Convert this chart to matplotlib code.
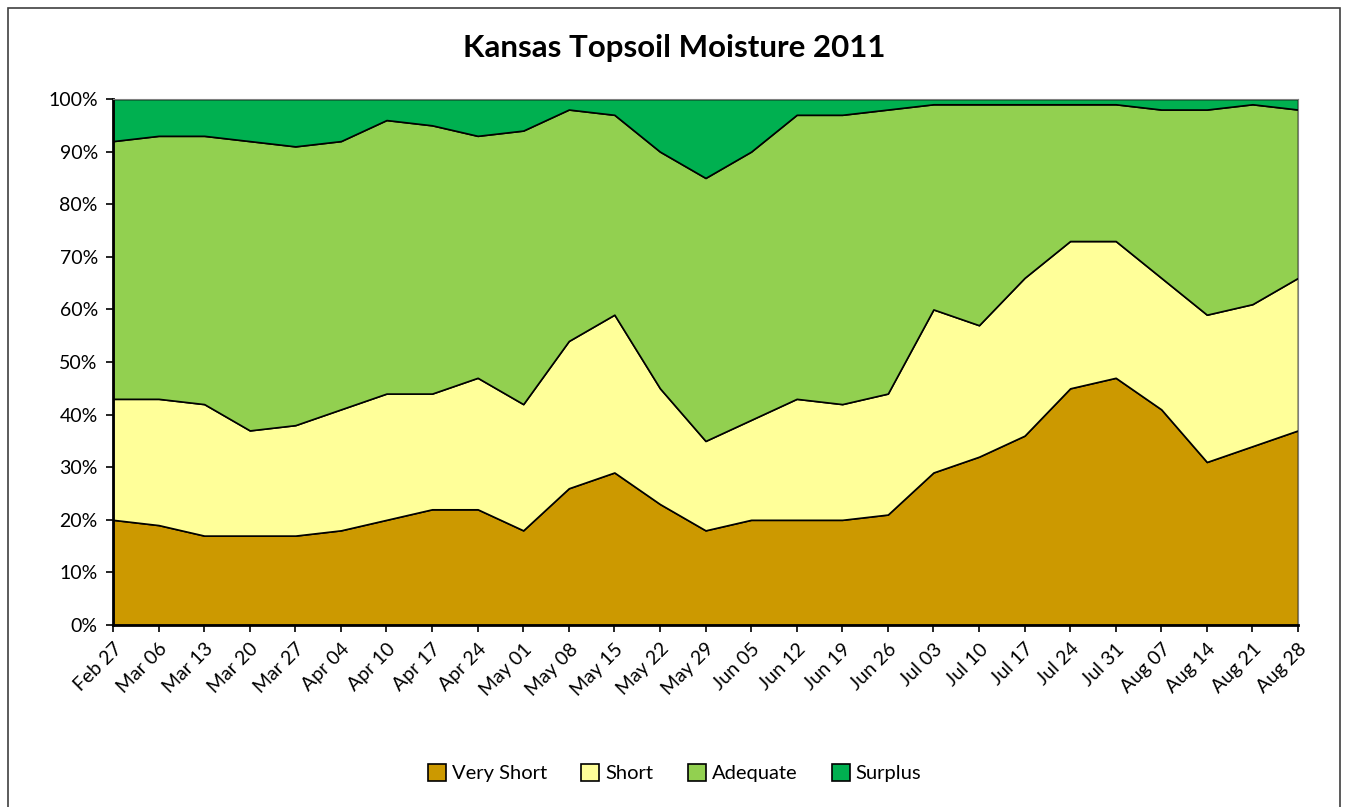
import matplotlib.pyplot as plt
import numpy as np
from matplotlib.patches import Rectangle

plt.rcParams['font.family'] = ['Lato', 'DejaVu Sans']

dates = ['Feb 27', 'Mar 06', 'Mar 13', 'Mar 20', 'Mar 27', 'Apr 04', 'Apr 10', 'Apr 17',
         'Apr 24', 'May 01', 'May 08', 'May 15', 'May 22', 'May 29', 'Jun 05', 'Jun 12',
         'Jun 19', 'Jun 26', 'Jul 03', 'Jul 10', 'Jul 17', 'Jul 24', 'Jul 31', 'Aug 07',
         'Aug 14', 'Aug 21', 'Aug 28']

# percent of topsoil in each class
very_short = [20, 19, 17, 17, 17, 18, 20, 22, 22, 18, 26, 29, 23, 18, 20, 20,
              20, 21, 29, 32, 36, 45, 47, 41, 31, 34, 37]
short = [23, 24, 25, 20, 21, 23, 24, 22, 25, 24, 28, 30, 22, 17, 19, 23,
         22, 23, 31, 25, 30, 28, 26, 25, 28, 27, 29]
adequate = [49, 50, 51, 55, 53, 51, 52, 51, 46, 52, 44, 38, 45, 50, 51, 54,
            55, 54, 39, 42, 33, 26, 26, 32, 39, 38, 32]
surplus = [8, 7, 7, 8, 9, 8, 4, 5, 7, 6, 2, 3, 10, 15, 10, 3,
           3, 2, 1, 1, 1, 1, 1, 2, 2, 1, 2]

labels = ['Very Short', 'Short', 'Adequate', 'Surplus']
colors = ['#CC9900', '#FFFF99', '#92D050', '#00B050']

fig = plt.figure(figsize=(13.49, 8.07), dpi=100)
fig.patches.append(Rectangle((0.006, -0.01), 0.987, 1.0, transform=fig.transFigure,
                             fill=False, edgecolor='#404040', linewidth=1.2))

ax = fig.add_axes([0.0838, 0.2255, 0.8784, 0.6518])
x = np.arange(len(dates))
ax.stackplot(x, very_short, short, adequate, surplus, labels=labels, colors=colors,
             edgecolor='black', linewidth=1.2)

ax.set_xlim(0, len(dates) - 1)
ax.set_ylim(0, 100)
ax.set_yticks(np.arange(0, 101, 10))
ax.set_yticklabels(['%d%%' % v for v in range(0, 101, 10)], fontsize=14)
ax.set_xticks(x)
ax.set_xticklabels(dates, rotation=45, ha='right', rotation_mode='anchor', fontsize=14)
ax.tick_params(axis='both', direction='out', length=5, width=1.2, pad=6)
for side in ['left', 'bottom']:
    ax.spines[side].set_linewidth(2)
for side in ['top', 'right']:
    ax.spines[side].set_linewidth(0.8)
    ax.spines[side].set_color('#808080')

fig.text(0.5, 0.94, 'Kansas Topsoil Moisture 2011', ha='center', va='center',
         fontsize=22.5, fontweight='bold')

fig.legend(loc='center', bbox_to_anchor=(0.5, 0.042), ncol=4, frameon=False,
           fontsize=14.5, handlelength=0.9, handleheight=0.9, handletextpad=0.3,
           columnspacing=1.7)

fig.savefig('out.png', dpi=100)
